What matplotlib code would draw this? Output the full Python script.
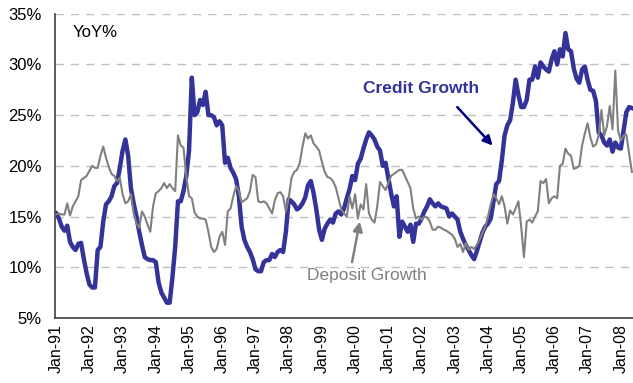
import matplotlib.pyplot as plt
import numpy as np

plt.rcParams['font.family'] = ['Liberation Sans', 'DejaVu Sans']

# monthly YoY growth, Jan-91 .. May-08
credit_growth = [
    15.3, 14.8, 14.0, 13.6, 14.1, 12.5, 12.0, 11.7, 12.3, 12.4, 10.8, 9.4,   # 1991
    8.3, 8.0, 8.0, 11.7, 12.0, 14.5, 16.2, 16.5, 17.0, 18.0, 18.3, 19.8,     # 1992
    21.5, 22.6, 21.0, 17.8, 16.3, 15.0, 13.5, 12.2, 11.0, 10.8, 10.7, 10.7,  # 1993
    10.5, 8.5, 7.5, 7.0, 6.5, 6.5, 9.0, 12.0, 16.5, 16.5, 17.5, 19.0,        # 1994
    21.5, 28.7, 25.0, 25.3, 26.5, 26.0, 27.3, 25.0, 25.0, 24.8, 24.0, 24.4,  # 1995
    24.0, 20.3, 20.8, 19.8, 19.3, 18.7, 17.0, 14.0, 12.7, 12.0, 11.5, 10.8,  # 1996
    9.8, 9.6, 9.6, 10.5, 10.7, 10.7, 11.3, 11.0, 11.5, 11.7, 11.5, 13.5,     # 1997
    16.7, 16.5, 16.2, 15.7, 15.9, 16.3, 16.9, 18.1, 18.5, 17.3, 15.7, 13.7,  # 1998
    12.7, 13.8, 14.3, 14.7, 14.4, 15.3, 15.5, 15.2, 15.8, 16.8, 17.7, 19.0,  # 1999
    18.6, 20.2, 20.7, 21.7, 22.6, 23.3, 23.0, 22.6, 21.9, 21.5, 20.0, 20.3,  # 2000
    18.8, 17.3, 16.0, 17.0, 13.0, 14.5, 14.0, 13.5, 14.2, 12.5, 14.3, 14.3,  # 2001
    14.8, 15.5, 16.0, 16.7, 16.3, 16.0, 16.3, 16.0, 15.9, 15.8, 15.0, 15.3,  # 2002
    15.0, 14.7, 13.5, 12.8, 12.2, 11.7, 11.2, 10.8, 11.6, 12.5, 13.4, 14.0,  # 2003
    14.3, 14.8, 16.5, 18.2, 18.5, 20.5, 23.0, 24.0, 24.5, 26.2, 28.5, 27.0,  # 2004
    25.8, 25.8, 26.5, 28.5, 28.5, 29.8, 28.7, 30.2, 29.8, 29.5, 29.3, 30.5,  # 2005
    31.3, 30.0, 31.5, 30.8, 33.1, 31.5, 31.3, 29.6, 28.6, 28.2, 29.5, 29.8,  # 2006
    28.5, 27.5, 27.4, 26.4, 23.3, 23.0, 22.3, 22.0, 22.6, 21.4, 22.3, 21.8,  # 2007
    21.7, 23.5, 25.3, 25.8, 25.7,                                            # 2008
]

deposit_growth = [
    15.2, 15.3, 15.2, 15.2, 16.3, 15.1, 16.0, 16.5, 17.0, 18.6, 18.8, 19.0,  # 1991
    19.5, 20.0, 19.8, 19.8, 21.0, 21.9, 20.8, 19.9, 19.2, 19.0, 18.5, 18.8,  # 1992
    17.2, 16.3, 16.5, 17.2, 15.3, 14.3, 13.9, 15.5, 15.0, 14.2, 13.5, 16.0,  # 1993
    17.3, 17.5, 17.8, 18.3, 17.8, 18.2, 17.8, 17.5, 23.0, 22.0, 21.8, 19.0,  # 1994
    17.0, 16.8, 15.4, 15.0, 14.8, 14.8, 14.7, 13.5, 12.0, 11.5, 11.8, 13.0,  # 1995
    13.5, 12.2, 15.5, 15.8, 17.0, 18.0, 17.5, 16.4, 16.6, 16.8, 17.5, 19.1,  # 1996
    18.9, 16.5, 16.4, 16.5, 16.3, 15.8, 15.3, 16.6, 17.3, 17.4, 17.0, 15.5,  # 1997
    16.8, 18.8, 19.4, 19.6, 20.3, 21.9, 23.2, 22.7, 23.0, 22.2, 21.9, 21.5,  # 1998
    20.4, 19.4, 18.9, 18.8, 18.5, 17.9, 16.8, 15.7, 15.3, 15.0, 17.0, 15.8,  # 1999
    17.2, 14.8, 16.2, 15.7, 18.2, 15.3, 14.7, 14.4, 16.0, 18.4, 18.0, 17.6,  # 2000
    18.3, 19.0, 19.2, 19.4, 19.6, 19.6, 19.0, 18.4, 17.8, 15.8, 14.8, 15.0,  # 2001
    14.7, 15.0, 14.9, 14.5, 13.7, 13.7, 14.0, 13.9, 13.7, 13.6, 13.4, 13.2,  # 2002
    12.8, 12.0, 12.3, 11.5, 12.4, 11.7, 12.0, 11.8, 12.2, 12.7, 13.4, 14.0,  # 2003
    15.0, 16.2, 17.2, 16.8, 16.2, 17.0, 16.0, 14.3, 15.6, 15.2, 15.8, 16.5,  # 2004
    14.0, 11.0, 14.5, 14.7, 14.4, 15.0, 15.5, 18.5, 18.3, 18.7, 16.3, 16.8,  # 2005
    17.0, 16.8, 20.0, 20.2, 21.7, 21.2, 21.0, 19.7, 19.8, 20.0, 22.0, 23.2,  # 2006
    24.2, 22.8, 21.9, 22.1, 23.0, 25.5, 23.0, 23.9, 25.9, 23.6, 29.4, 23.5,  # 2007
    22.5, 23.0, 23.1, 21.2, 19.4,                                            # 2008
]

years = ['91', '92', '93', '94', '95', '96', '97', '98', '99',
         '00', '01', '02', '03', '04', '05', '06', '07', '08']
tick_labels = ['Jan-' + y for y in years]

months = np.arange(len(credit_growth))

fig = plt.figure(figsize=(6.33, 3.83), dpi=100)
ax = fig.add_axes([0.087, 0.17, 0.913, 0.794])

ax.plot(months, credit_growth, color='#333399', lw=3.2, solid_joinstyle='round', zorder=2)
ax.plot(months, deposit_growth, color='#808080', lw=1.5, zorder=3)

ax.set_ylim(5, 35)
ax.set_xlim(-0.4, 208.4)
ax.set_yticks(range(5, 36, 5))
ax.set_yticklabels([f'{v}%' for v in range(5, 36, 5)], fontsize=12)
ax.set_xticks(np.arange(0, len(months), 12))
ax.set_xticklabels(tick_labels, rotation=90, fontsize=11.5)
ax.tick_params(length=0)
ax.tick_params(axis='y', pad=9.5)
ax.tick_params(axis='x', pad=4.5)

for v in range(10, 36, 5):
    ax.axhline(v, color='#c0c0c0', lw=1, ls=(0, (6, 5)), zorder=1)

for s in ['top', 'right']:
    ax.spines[s].set_visible(False)
for s in ['left', 'bottom']:
    ax.spines[s].set_color('#404040')
    ax.spines[s].set_linewidth(1.2)

ax.text(0.03, 0.94, 'YoY%', transform=ax.transAxes, fontsize=12, va='center')

ax.text(131.8, 27.6, 'Credit Growth', color='#333399', fontsize=12.5,
        fontweight='bold', ha='center', va='center')
ax.annotate('', xy=(157.7, 22.0), xytext=(144.9, 25.8),
            arrowprops=dict(arrowstyle='-|>', color='#000080', lw=1.8,
                            mutation_scale=14, shrinkA=0, shrinkB=0))

ax.text(112.3, 9.2, 'Deposit Growth', color='#808080', fontsize=12.5,
        ha='center', va='center')
ax.annotate('', xy=(109.7, 14.5), xytext=(106.9, 10.5),
            arrowprops=dict(arrowstyle='-|>', color='#808080', lw=1.8,
                            mutation_scale=14, shrinkA=0, shrinkB=0))

fig.savefig('out.png', dpi=100)
